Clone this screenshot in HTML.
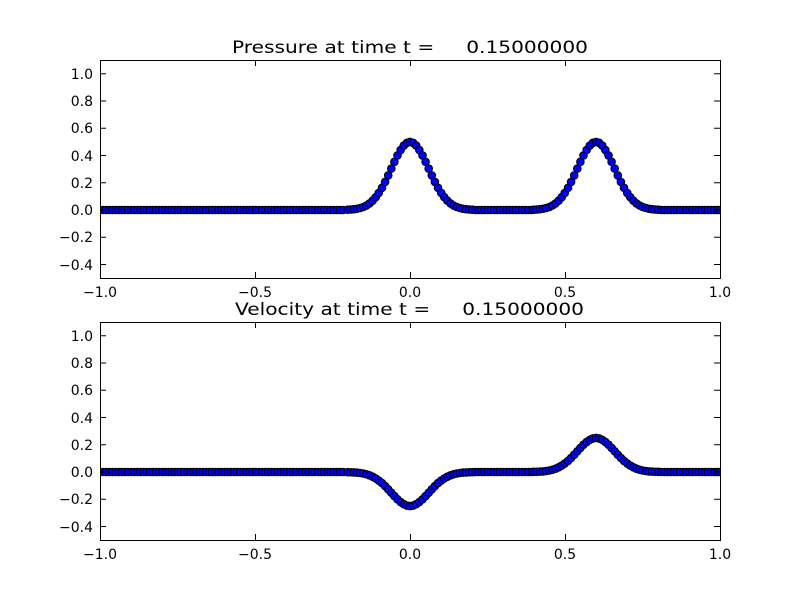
<!DOCTYPE html>
<html><head><meta charset="utf-8"><style>body{margin:0;background:#fff}svg{display:block}
.pl{fill:none;stroke:none;marker-start:url(#m);marker-mid:url(#m);marker-end:url(#m)}</style></head>
<body>
<svg width="800" height="600" xmlns="http://www.w3.org/2000/svg" font-family="DejaVu Sans, Liberation Sans, sans-serif">
<defs>
<marker id="m" markerUnits="userSpaceOnUse" markerWidth="10" markerHeight="10" refX="5" refY="5" overflow="visible"><circle cx="5" cy="5" r="3.8" fill="#0000ff" stroke="#000" stroke-width="1"/></marker>
<clipPath id="c1"><rect x="100" y="60" width="620" height="218"/></clipPath>
<clipPath id="c2"><rect x="100" y="322" width="620" height="218"/></clipPath>
</defs>
<g clip-path="url(#c1)">
<polyline class="pl" points="100,210 103.1,210 106.2,210 109.3,210 112.5,210 115.6,210 118.7,210 121.8,210 124.9,210 128,210 131.2,210 134.3,210 137.4,210 140.5,210 143.6,210 146.7,210 149.9,210 153,210 156.1,210 159.2,210 162.3,210 165.4,210 168.6,210 171.7,210 174.8,210 177.9,210 181,210 184.1,210 187.3,210 190.4,210 193.5,210 196.6,210 199.7,210 202.8,210 206,210 209.1,210 212.2,210 215.3,210 218.4,210 221.5,210 224.7,210 227.8,210 230.9,210 234,210 237.1,210 240.2,210 243.4,210 246.5,210 249.6,210 252.7,210 255.8,210 258.9,210 262.1,210 265.2,210 268.3,210 271.4,210 274.5,210 277.6,210 280.8,210 283.9,210 287,210 290.1,210 293.2,210 296.3,210 299.5,210 302.6,210 305.7,210 308.8,210 311.9,210 315,210 318.2,210 321.3,210 324.4,210 327.5,210 330.6,210 333.7,210 336.9,210 340,210 343.1,210 
347.7,209.7 350.8,209.5 353.9,209.2 357,208.75 360.1,208 363.3,207 366.4,205.5 369.5,203.4 372.6,200.7 375.7,197.2 378.8,192.9 382,187.8 385.1,181.9 388.2,175.4 391.3,168.6 394.4,161.8 397.5,155.4 400.7,149.9 403.8,145.6 406.9,142.8 410,141.9 413.1,142.8 416.2,145.6 419.3,149.9 422.5,155.4 425.6,161.8 428.7,168.6 431.8,175.4 434.9,181.9 438,187.8 441.2,192.9 444.3,197.2 447.4,200.7 450.5,203.4 453.6,205.5 456.7,207 459.9,208 463,208.75 466.1,209.2 469.2,209.5 472.3,209.7 
475.4,210 478.5,210 481.6,210 484.7,210 487.8,210 491,210 494.1,210 497.2,210 500.3,210 503.4,210 506.5,210 509.7,210 512.8,210 515.9,210 519,210 522.1,210 525.2,210 528.4,210 531.5,210 
533.7,209.7 536.8,209.5 539.9,209.2 543,208.75 546.1,208 549.3,207 552.4,205.5 555.5,203.4 558.6,200.7 561.7,197.2 564.8,192.9 568,187.8 571.1,181.9 574.2,175.4 577.3,168.6 580.4,161.8 583.5,155.4 586.7,149.9 589.8,145.6 592.9,142.8 596,141.9 599.1,142.8 602.2,145.6 605.3,149.9 608.5,155.4 611.6,161.8 614.7,168.6 617.8,175.4 620.9,181.9 624,187.8 627.2,192.9 630.3,197.2 633.4,200.7 636.5,203.4 639.6,205.5 642.7,207 645.9,208 649,208.75 652.1,209.2 655.2,209.5 658.3,209.7 
661.4,210 664.5,210 667.6,210 670.7,210 673.8,210 677,210 680.1,210 683.2,210 686.3,210 689.4,210 692.5,210 695.7,210 698.8,210 701.9,210 705,210 708.1,210 711.2,210 714.4,210 717.5,210 720,210"/>
</g>
<g clip-path="url(#c2)">
<polyline class="pl" points="100,472 103.1,472 106.2,472 109.3,472 112.5,472 115.6,472 118.7,472 121.8,472 124.9,472 128,472 131.2,472 134.3,472 137.4,472 140.5,472 143.6,472 146.7,472 149.9,472 153,472 156.1,472 159.2,472 162.3,472 165.4,472 168.6,472 171.7,472 174.8,472 177.9,472 181,472 184.1,472 187.3,472 190.4,472 193.5,472 196.6,472 199.7,472 202.8,472 206,472 209.1,472 212.2,472 215.3,472 218.4,472 221.5,472 224.7,472 227.8,472 230.9,472 234,472 237.1,472 240.2,472 243.4,472 246.5,472 249.6,472 252.7,472 255.8,472 258.9,472 262.1,472 265.2,472 268.3,472 271.4,472 274.5,472 277.6,472 280.8,472 283.9,472 287,472 290.1,472 293.2,472 296.3,472 299.5,472 302.6,472 305.7,472 308.8,472 311.9,472 315,472 318.2,472 321.3,472 324.4,472 327.5,472 330.6,472 333.7,472 336.9,472 340,472 343.1,472 
347.7,472.15 350.8,472.25 353.9,472.4 357,472.6 360.1,473 363.3,473.5 366.4,474.25 369.5,475.3 372.6,476.65 375.7,478.4 378.8,480.55 382,483.1 385.1,486.05 388.2,489.3 391.3,492.7 394.4,496.1 397.5,499.3 400.7,502.05 403.8,504.2 406.9,505.6 410,506.05 413.1,505.6 416.2,504.2 419.3,502.05 422.5,499.3 425.6,496.1 428.7,492.7 431.8,489.3 434.9,486.05 438,483.1 441.2,480.55 444.3,478.4 447.4,476.65 450.5,475.3 453.6,474.25 456.7,473.5 459.9,473 463,472.6 466.1,472.4 469.2,472.25 472.3,472.15 
475.4,472 478.5,472 481.6,472 484.7,472 487.8,472 491,472 494.1,472 497.2,472 500.3,472 503.4,472 506.5,472 509.7,472 512.8,472 515.9,472 519,472 522.1,472 525.2,472 528.4,472 531.5,472 
533.7,471.85 536.8,471.75 539.9,471.6 543,471.4 546.1,471 549.3,470.5 552.4,469.75 555.5,468.7 558.6,467.35 561.7,465.6 564.8,463.45 568,460.9 571.1,457.95 574.2,454.7 577.3,451.3 580.4,447.9 583.5,444.7 586.7,441.95 589.8,439.8 592.9,438.4 596,437.95 599.1,438.4 602.2,439.8 605.3,441.95 608.5,444.7 611.6,447.9 614.7,451.3 617.8,454.7 620.9,457.95 624,460.9 627.2,463.45 630.3,465.6 633.4,467.35 636.5,468.7 639.6,469.75 642.7,470.5 645.9,471 649,471.4 652.1,471.6 655.2,471.75 658.3,471.85 
661.4,472 664.5,472 667.6,472 670.7,472 673.8,472 677,472 680.1,472 683.2,472 686.3,472 689.4,472 692.5,472 695.7,472 698.8,472 701.9,472 705,472 708.1,472 711.2,472 714.4,472 717.5,472 720,472"/>
</g>
<g stroke="#000" stroke-width="1" fill="none">
<rect x="100.5" y="60.5" width="620" height="218"/>
<rect x="100.5" y="322.5" width="620" height="218"/>
<path d="M100,73.75h6M100,101h6M100,128.25h6M100,155.5h6M100,182.75h6M100,210h6M100,237.25h6M100,264.5h6
M720,73.75h-6M720,101h-6M720,128.25h-6M720,155.5h-6M720,182.75h-6M720,210h-6M720,237.25h-6M720,264.5h-6
M100,335.75h6M100,363h6M100,390.25h6M100,417.5h6M100,444.75h6M100,472h6M100,499.25h6M100,526.5h6
M720,335.75h-6M720,363h-6M720,390.25h-6M720,417.5h-6M720,444.75h-6M720,472h-6M720,499.25h-6M720,526.5h-6
M255.5,278v-6M410.5,278v-6M565.5,278v-6M255.5,60v6M410.5,60v6M565.5,60v6
M255.5,540v-6M410.5,540v-6M565.5,540v-6M255.5,322v6M410.5,322v6M565.5,322v6"/>
</g>
<g font-size="14" text-anchor="end">
<text x="93" y="79">1.0</text><text x="93" y="106">0.8</text><text x="93" y="133">0.6</text><text x="93" y="161">0.4</text><text x="93" y="188">0.2</text><text x="93" y="215">0.0</text><text x="93" y="242">−0.2</text><text x="93" y="270">−0.4</text>
<text x="93" y="341">1.0</text><text x="93" y="368">0.8</text><text x="93" y="395">0.6</text><text x="93" y="423">0.4</text><text x="93" y="450">0.2</text><text x="93" y="477">0.0</text><text x="93" y="504">−0.2</text><text x="93" y="532">−0.4</text>
</g>
<g font-size="14" text-anchor="middle">
<text x="100" y="297">−1.0</text><text x="255" y="297">−0.5</text><text x="410" y="297">0.0</text><text x="565" y="297">0.5</text><text x="720" y="297">1.0</text>
<text x="100" y="559">−1.0</text><text x="255" y="559">−0.5</text><text x="410" y="559">0.0</text><text x="565" y="559">0.5</text><text x="720" y="559">1.0</text>
</g>
<g font-size="17">
<text x="232" y="53" textLength="356" lengthAdjust="spacingAndGlyphs" xml:space="preserve">Pressure at time t =     0.15000000</text>
<text x="235" y="315" textLength="349" lengthAdjust="spacingAndGlyphs" xml:space="preserve">Velocity at time t =     0.15000000</text>
</g>
</svg>
</body></html>
